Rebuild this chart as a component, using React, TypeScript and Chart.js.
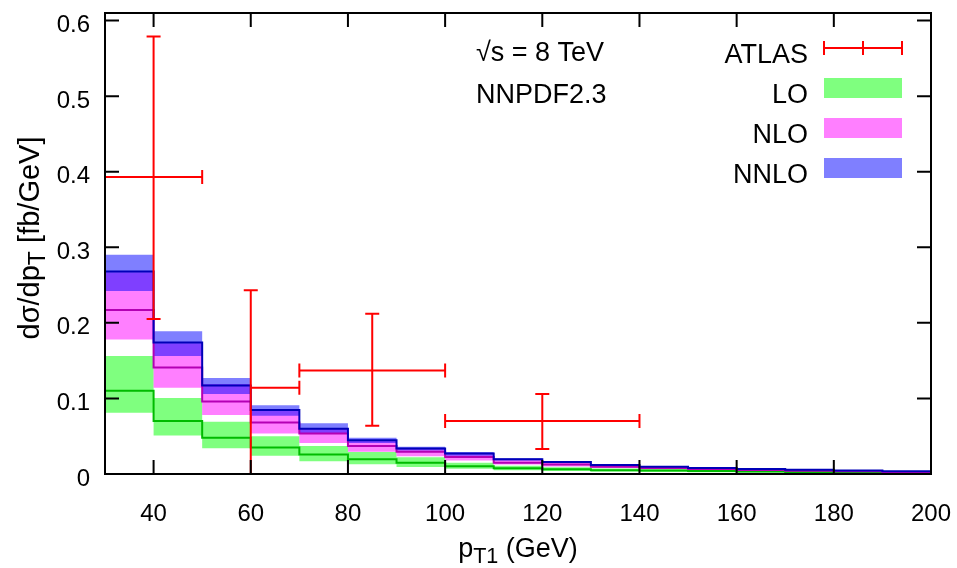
import React, { useEffect, useRef } from 'react';
import { Chart, registerables } from 'chart.js';

Chart.register(...registerables);

// ---- data ----
const binEdges = [30, 40, 50, 60, 70, 80, 90, 100, 110, 120, 130, 140, 150, 160, 170, 180, 190, 200];
const xTicks = [40, 60, 80, 100, 120, 140, 160, 180, 200];
const xTickLabels = ['40', '60', '80', '100', '120', '140', '160', '180', '200'];
const yTicks = [0, 0.1, 0.2, 0.3, 0.4, 0.5, 0.6];
const yTickLabels = ['0', '0.1', '0.2', '0.3', '0.4', '0.5', '0.6'];

const loCentral = [0.110, 0.070, 0.048, 0.035, 0.0257, 0.0195, 0.015, 0.0102, 0.0076, 0.0062, 0.005, 0.0045, 0.0040, 0.0034, 0.0028, 0.0022, 0.0017];
const loUpper = [0.156, 0.1005, 0.069, 0.050, 0.037, 0.029, 0.022, 0.015, 0.011, 0.009, 0.0073, 0.0062, 0.0052, 0.0043, 0.0035, 0.0028, 0.0022];
const loLower = [0.081, 0.051, 0.034, 0.024, 0.017, 0.0129, 0.0093, 0.0068, 0.005, 0.0041, 0.0033, 0.0028, 0.0023, 0.0019, 0.0015, 0.0012, 0.001];

const nloCentral = [0.217, 0.141, 0.096, 0.068, 0.0535, 0.037, 0.0296, 0.0226, 0.015, 0.0125, 0.0095, 0.008, 0.0065, 0.0052, 0.0044, 0.0036, 0.0028];
const nloUpper = [0.267, 0.173, 0.119, 0.084, 0.060, 0.044, 0.033, 0.026, 0.019, 0.015, 0.0115, 0.0095, 0.0078, 0.0062, 0.0052, 0.0043, 0.0034];
const nloLower = [0.178, 0.114, 0.078, 0.0535, 0.041, 0.0296, 0.0235, 0.018, 0.0125, 0.010, 0.0078, 0.0065, 0.0052, 0.0042, 0.0035, 0.0029, 0.0023];

const nnloCentral = [0.268, 0.174, 0.117, 0.0846, 0.060, 0.0447, 0.0336, 0.027, 0.0195, 0.016, 0.012, 0.0097, 0.008, 0.0065, 0.0055, 0.0045, 0.0035];
const nnloUpper = [0.290, 0.189, 0.127, 0.091, 0.067, 0.048, 0.036, 0.029, 0.021, 0.017, 0.013, 0.0105, 0.0085, 0.007, 0.0058, 0.0047, 0.0037];
const nnloLower = [0.242, 0.156, 0.106, 0.077, 0.054, 0.041, 0.031, 0.024, 0.018, 0.0145, 0.011, 0.009, 0.0072, 0.006, 0.005, 0.004, 0.003];

const atlasX = [40, 60, 85, 120];
const atlasY = [0.393, 0.114, 0.137, 0.070];
const atlasXLow = [30, 60, 70, 100];
const atlasXHigh = [50, 70, 100, 140];
const atlasYLow = [0.205, -0.05, 0.064, 0.033];
const atlasYHigh = [0.579, 0.243, 0.212, 0.106];

const legendLabels = ['ATLAS', 'LO', 'NLO', 'NNLO'];
const infoLabels = ['\u221As = 8 TeV', 'NNPDF2.3'];

// ---- style ----
const FAM = "'Liberation Sans', Arial, Helvetica, sans-serif";
const GREEN_FILL = 'rgba(0,255,0,0.5)';
const MAGENTA_FILL = 'rgba(255,0,255,0.5)';
const BLUE_FILL = 'rgba(0,0,255,0.5)';
const GREEN_LINE = '#00bb00';
const MAGENTA_LINE = '#b400b4';
const BLUE_LINE = '#0000b8';
const RED = '#ff0000';

const histPoints = (vals: number[]) =>
  binEdges.map((x, i) => ({ x, y: vals[Math.min(i, vals.length - 1)] }));

type Part = { t: string; sub?: boolean };

function drawRich(ctx: CanvasRenderingContext2D, parts: Part[], x: number, y: number, size: number, align: 'left' | 'center' | 'right') {
  ctx.textAlign = 'left';
  ctx.textBaseline = 'alphabetic';
  const widths = parts.map((p) => {
    ctx.font = `${p.sub ? size * 0.8 : size}px ${FAM}`;
    return ctx.measureText(p.t).width;
  });
  const total = widths.reduce((a, b) => a + b, 0);
  let cx = align === 'center' ? x - total / 2 : align === 'right' ? x - total : x;
  parts.forEach((p, i) => {
    ctx.font = `${p.sub ? size * 0.8 : size}px ${FAM}`;
    ctx.fillText(p.t, cx, y + (p.sub ? size * 0.22 : 0));
    cx += widths[i];
  });
}

const overlayPlugin = {
  id: 'overlay',
  afterDatasetsDraw(chart: any) {
    const { ctx, chartArea: a } = chart;
    const xs = chart.scales.x;
    const ys = chart.scales.y;

    // ATLAS error bars
    ctx.save();
    ctx.beginPath();
    ctx.rect(a.left, a.top, a.right - a.left, a.bottom - a.top);
    ctx.clip();
    ctx.strokeStyle = RED;
    ctx.lineWidth = 2;
    const cap = 7;
    for (let i = 0; i < atlasX.length; i++) {
      const px = xs.getPixelForValue(atlasX[i]);
      const py = ys.getPixelForValue(atlasY[i]);
      const xl = xs.getPixelForValue(atlasXLow[i]);
      const xh = xs.getPixelForValue(atlasXHigh[i]);
      const yl = ys.getPixelForValue(atlasYLow[i]);
      const yh = ys.getPixelForValue(atlasYHigh[i]);
      ctx.beginPath();
      ctx.moveTo(xl, py); ctx.lineTo(xh, py);
      ctx.moveTo(xl, py - cap); ctx.lineTo(xl, py + cap);
      ctx.moveTo(xh, py - cap); ctx.lineTo(xh, py + cap);
      ctx.moveTo(px, yl); ctx.lineTo(px, yh);
      ctx.moveTo(px - cap, yl); ctx.lineTo(px + cap, yl);
      ctx.moveTo(px - cap, yh); ctx.lineTo(px + cap, yh);
      ctx.stroke();
    }
    ctx.restore();

    // frame + inward ticks
    ctx.save();
    ctx.strokeStyle = '#000';
    ctx.lineWidth = 2;
    ctx.strokeRect(a.left, a.top, a.right - a.left, a.bottom - a.top);
    const tl = 14;
    ctx.beginPath();
    xTicks.forEach((v) => {
      const px = xs.getPixelForValue(v);
      ctx.moveTo(px, a.bottom); ctx.lineTo(px, a.bottom - tl);
      ctx.moveTo(px, a.top); ctx.lineTo(px, a.top + tl);
    });
    yTicks.forEach((v) => {
      const py = ys.getPixelForValue(v);
      ctx.moveTo(a.left, py); ctx.lineTo(a.left + tl, py);
      ctx.moveTo(a.right, py); ctx.lineTo(a.right - tl, py);
    });
    ctx.stroke();

    // legend
    ctx.fillStyle = '#000';
    ctx.font = `27px ${FAM}`;
    ctx.textAlign = 'right';
    ctx.textBaseline = 'alphabetic';
    const textX = 808;
    const sx0 = 824;
    const sx1 = 902;
    const rowCenters = [48, 88, 128, 168];
    legendLabels.forEach((lab, i) => {
      ctx.fillText(lab, textX, rowCenters[i] + 15);
    });
    // ATLAS sample
    ctx.strokeStyle = RED;
    ctx.lineWidth = 2;
    ctx.beginPath();
    const ry = rowCenters[0];
    const rm = (sx0 + sx1) / 2;
    ctx.moveTo(sx0, ry); ctx.lineTo(sx1, ry);
    [sx0, rm, sx1].forEach((xx) => { ctx.moveTo(xx, ry - 7); ctx.lineTo(xx, ry + 7); });
    ctx.stroke();
    const fills = [GREEN_FILL, MAGENTA_FILL, BLUE_FILL];
    fills.forEach((f, i) => {
      ctx.fillStyle = f;
      const cy = rowCenters[i + 1];
      ctx.fillRect(sx0, cy - 10, sx1 - sx0, 20);
    });

    // info text
    ctx.fillStyle = '#000';
    ctx.font = `27px ${FAM}`;
    ctx.textAlign = 'left';
    ctx.fillText(infoLabels[0], 476, 61);
    ctx.fillText(infoLabels[1], 476, 103);

    // axis titles
    drawRich(ctx, [{ t: 'p' }, { t: 'T1', sub: true }, { t: ' (GeV)' }], (a.left + a.right) / 2, 557, 27, 'center');
    ctx.save();
    ctx.translate(39, 238);
    ctx.rotate(-Math.PI / 2);
    drawRich(ctx, [{ t: 'd\u03C3/dp' }, { t: 'T', sub: true }, { t: ' [fb/GeV]' }], 0, 0, 29, 'center');
    ctx.restore();
    ctx.restore();
  },
};

export default function App() {
  const ref = useRef<HTMLCanvasElement | null>(null);

  useEffect(() => {
    document.body.style.margin = '0';
    const canvas = ref.current;
    if (!canvas) return;

    const band = (vals: number[], color: string, fill: any) => ({
      type: 'line',
      data: histPoints(vals),
      stepped: 'before',
      borderWidth: 0,
      borderColor: 'rgba(0,0,0,0)',
      backgroundColor: color,
      pointRadius: 0,
      fill,
    });
    const central = (label: string, vals: number[], color: string) => ({
      type: 'line',
      label,
      data: histPoints(vals),
      stepped: 'before',
      borderWidth: 2,
      borderColor: color,
      pointRadius: 0,
      fill: false,
    });

    const chart = new Chart(canvas, {
      type: 'line',
      data: {
        datasets: [
          central('NNLO', nnloCentral, BLUE_LINE),
          central('NLO', nloCentral, MAGENTA_LINE),
          central('LO', loCentral, GREEN_LINE),
          band(nnloUpper, BLUE_FILL, '+1'),
          band(nnloLower, BLUE_FILL, false),
          band(nloUpper, MAGENTA_FILL, '+1'),
          band(nloLower, MAGENTA_FILL, false),
          band(loUpper, GREEN_FILL, '+1'),
          band(loLower, GREEN_FILL, false),
          {
            type: 'scatter',
            label: 'ATLAS',
            data: atlasX.map((x, i) => ({ x, y: atlasY[i] })),
            pointRadius: 0,
            showLine: false,
          },
        ] as any,
      },
      options: {
        animation: false,
        responsive: false,
        devicePixelRatio: 1,
        layout: { padding: { left: 0, top: 13, right: 26, bottom: 0 } },
        plugins: { legend: { display: false }, tooltip: { enabled: false } },
        scales: {
          x: {
            type: 'linear',
            min: 30,
            max: 200,
            grid: { display: false, drawTicks: false },
            border: { display: false },
            afterBuildTicks: (s: any) => { s.ticks = xTicks.map((v) => ({ value: v })); },
            afterFit: (s: any) => { s.height = 94; s.paddingLeft = 0; s.paddingRight = 0; },
            ticks: {
              color: '#000',
              font: { family: FAM, size: 24 },
              padding: 26,
              maxRotation: 0,
              autoSkip: false,
              callback: (_v: any, i: number) => xTickLabels[i],
            },
          },
          y: {
            type: 'linear',
            min: 0,
            max: 0.61,
            grid: { display: false, drawTicks: false },
            border: { display: false },
            afterBuildTicks: (s: any) => { s.ticks = yTicks.map((v) => ({ value: v })); },
            afterFit: (s: any) => { s.width = 105; s.paddingTop = 0; s.paddingBottom = 0; },
            ticks: {
              color: '#000',
              font: { family: FAM, size: 24 },
              padding: 15,
              labelOffset: 5,
              autoSkip: false,
              callback: (_v: any, i: number) => yTickLabels[i],
            },
          },
        },
      } as any,
      plugins: [overlayPlugin],
    });
    return () => chart.destroy();
  }, []);

  return (
    <div style={{ width: 957, height: 568 }}>
      <canvas ref={ref} width={957} height={568} style={{ display: 'block' }} />
    </div>
  );
}
